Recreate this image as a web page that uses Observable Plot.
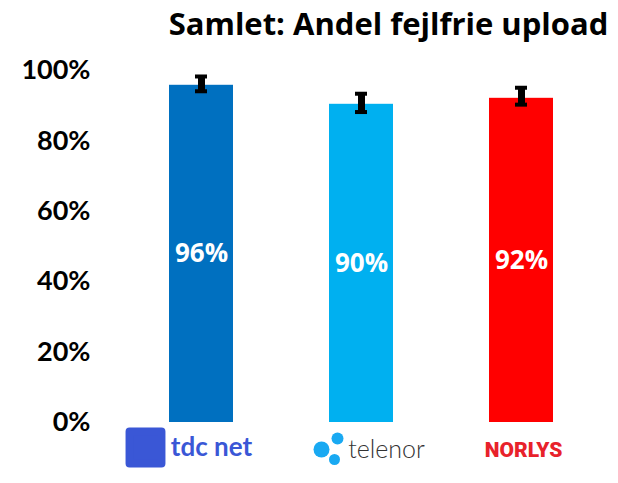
<!DOCTYPE html>
<html>
<head>
<meta charset="utf-8">
<script src="https://cdn.jsdelivr.net/npm/d3@7"></script>
<script src="https://cdn.jsdelivr.net/npm/@observablehq/plot@0.6"></script>
<style>
  html, body { margin: 0; padding: 0; background: #fff; }
</style>
</head>
<body>
<div id="chart"></div>
<script>
const title = "Samlet: Andel fejlfrie upload";
const providers = ["tdc net", "telenor", "NORLYS"];
const values = [95.8, 90.4, 92.1];
const errLow = [94.1, 88.2, 90.3];
const errHigh = [98.3, 93.4, 95.1];
const barColors = ["#0070C0", "#00B0F0", "#FF0000"];
const yTicks = [0, 20, 40, 60, 80, 100];

const data = providers.map((p, i) => ({
  provider: p, value: values[i], low: errLow[i], high: errHigh[i], color: barColors[i],
  label: Math.round(values[i]) + "%"
}));

const chart = Plot.plot({
  width: 618,
  height: 483,
  marginTop: 70,
  marginBottom: 61,
  marginLeft: 121,
  marginRight: 17,
  style: { fontFamily: "Lato, 'Open Sans', sans-serif", background: "#fff", overflow: "visible" },
  x: { domain: providers, paddingInner: 0.6, paddingOuter: 0.3, axis: null },
  y: { domain: [0, 100], axis: null },
  marks: [
    Plot.barY(data, { x: "provider", y: "value", fill: "color" }),
    Plot.ruleX(data, { x: "provider", y1: "low", y2: "high", stroke: "#000", strokeWidth: 7 }),
    Plot.tickY(data, { x: "provider", y: "low", stroke: "#000", strokeWidth: 4, insetLeft: 26, insetRight: 26 }),
    Plot.tickY(data, { x: "provider", y: "high", stroke: "#000", strokeWidth: 4, insetLeft: 26, insetRight: 26 }),
    Plot.text(data, { x: "provider", y: d => d.value / 2, text: "label", fill: "#fff",
      fontSize: 26, fontWeight: "bold", fontFamily: "'Open Sans', sans-serif" }),
    Plot.axisY({ ticks: yTicks, tickFormat: d => d + "%", tickSize: 0, tickPadding: 31,
      fontSize: 27, fontWeight: "bold", fill: "#000", anchor: "left" }),
    Plot.text([title], { frameAnchor: "top", lineAnchor: "middle", dx: 27, dy: -45, fontSize: 31,
      fontWeight: "bold", fill: "#000", fontFamily: "'Open Sans', sans-serif", letterSpacing: "0.8px" }),
    // tdc net logo
    Plot.dot([providers[0]], { x: d => d, frameAnchor: "bottom", dx: -56, dy: 25, symbol: "square",
      r: 18, fill: "#3a57d6", stroke: "#3a57d6", strokeWidth: 8, strokeLinejoin: "round" }),
    Plot.text([providers[0]], { x: d => d, frameAnchor: "bottom", lineAnchor: "middle", dx: 10, dy: 25,
      text: d => d, fontSize: 26, fontWeight: "bold", fill: "#3a57d6" }),
    // telenor logo
    Plot.dot([providers[1]], { x: d => d, frameAnchor: "bottom", dx: -40, dy: 27, r: 8, fill: "#19a9f2" }),
    Plot.dot([providers[1]], { x: d => d, frameAnchor: "bottom", dx: -24, dy: 16, r: 6, fill: "#19a9f2" }),
    Plot.dot([providers[1]], { x: d => d, frameAnchor: "bottom", dx: -27, dy: 37, r: 5.5, fill: "#19a9f2" }),
    Plot.text([providers[1]], { x: d => d, frameAnchor: "bottom", lineAnchor: "middle", dx: 25, dy: 27,
      text: d => d, fontSize: 25, fontWeight: 300, fill: "#333" }),
    // NORLYS logo
    Plot.text([providers[2]], { x: d => d, frameAnchor: "bottom", lineAnchor: "middle", dx: 2, dy: 28,
      text: d => d, fontSize: 21, fontWeight: 900, fill: "#e8222b", fontFamily: "Roboto, sans-serif",
      letterSpacing: "1px" })
  ]
});
document.getElementById("chart").append(chart);
</script>
</body>
</html>
